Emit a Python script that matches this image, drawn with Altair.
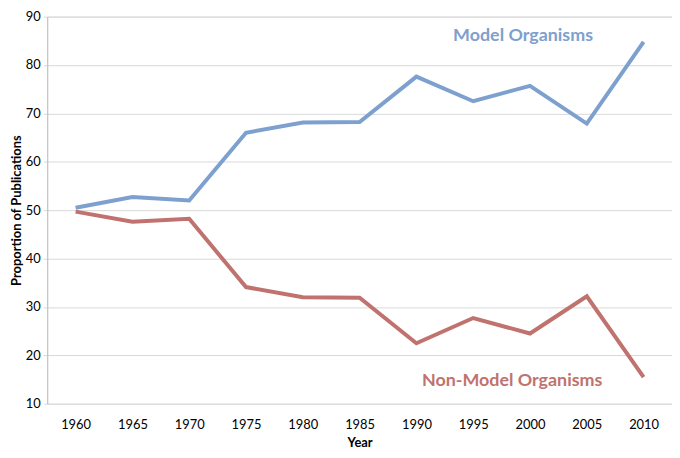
import altair as alt
import pandas as pd

years = ["1960", "1965", "1970", "1975", "1980", "1985", "1990", "1995", "2000", "2005", "2010"]
model = [50.5, 52.7, 52.0, 66.0, 68.1, 68.2, 77.6, 72.5, 75.7, 67.9, 84.8]
non_model = [49.7, 47.6, 48.2, 34.1, 32.0, 31.9, 22.5, 27.7, 24.5, 32.2, 15.5]
series_names = ["Model Organisms", "Non-Model Organisms"]
series_colors = ["#7DA0CF", "#C0736E"]
y_ticks = [10, 20, 30, 40, 50, 60, 70, 80, 90]

# annotation anchors (category, value)
label_year = ["2000", "2000"]
label_value = [86.0, 14.6]

rows = []
for name, vals in zip(series_names, [model, non_model]):
    for yr, v in zip(years, vals):
        rows.append({"Year": yr, "value": v, "series": name})
df = pd.DataFrame(rows)

lab_df = pd.DataFrame({"Year": label_year, "value": label_value, "series": series_names})

W, H = 629.5, 390
FONT = "Lato"

x_enc = alt.X(
    "Year:O",
    sort=years,
    scale=alt.Scale(type="point", padding=0.5),
    axis=alt.Axis(
        title="Year", labelAngle=0, grid=False, domain=False, ticks=False,
        labelPadding=15, labelFont=FONT, labelFontSize=13, labelColor="#000000",
        titleFont=FONT, titleFontSize=13, titleFontWeight="bold", titleColor="#000000",
        titleY=39, titleBaseline="middle",
    ),
)
y_enc = alt.Y(
    "value:Q",
    scale=alt.Scale(domain=[10, 90], nice=False, zero=False),
    axis=alt.Axis(
        title="Proportion of Publications", values=y_ticks, grid=True,
        gridColor="#D9D9D9", gridWidth=1, domainColor="#BFBFBF", domainWidth=1,
        tickColor="#D9D9D9", tickSize=4, labelPadding=3,
        labelFont=FONT, labelFontSize=13, labelColor="#000000",
        titleFont=FONT, titleFontSize=13, titleFontWeight="bold", titleColor="#000000",
        titleX=-31, titleY=H / 2, titleBaseline="middle", titleAngle=270,
    ),
)
color_scale = alt.Scale(domain=series_names, range=series_colors)

lines = alt.Chart(df).mark_line(strokeWidth=4, strokeJoin="miter").encode(
    x=x_enc, y=y_enc,
    color=alt.Color("series:N", scale=color_scale, legend=None),
)

lab1 = alt.Chart(lab_df[lab_df.series == series_names[0]]).mark_text(
    font=FONT, fontSize=18, fontWeight="bold", dx=-7, align="center", baseline="middle"
).encode(
    x=alt.X("Year:O", sort=years), y="value:Q", text="series:N",
    color=alt.Color("series:N", scale=color_scale, legend=None),
)
lab2 = alt.Chart(lab_df[lab_df.series == series_names[1]]).mark_text(
    font=FONT, fontSize=18, fontWeight="bold", dx=-18, align="center", baseline="middle"
).encode(
    x=alt.X("Year:O", sort=years), y="value:Q", text="series:N",
    color=alt.Color("series:N", scale=color_scale, legend=None),
)

chart = alt.layer(lines, lab1, lab2).properties(
    width=W, height=H,
    autosize=alt.AutoSizeParams(type="none"),
    padding={"left": 39.5, "top": 7, "right": 0, "bottom": 45},
).configure_view(stroke=None).configure(background="#FFFFFF")

chart.save("out.html", embed_options={"renderer": "svg", "actions": False})
